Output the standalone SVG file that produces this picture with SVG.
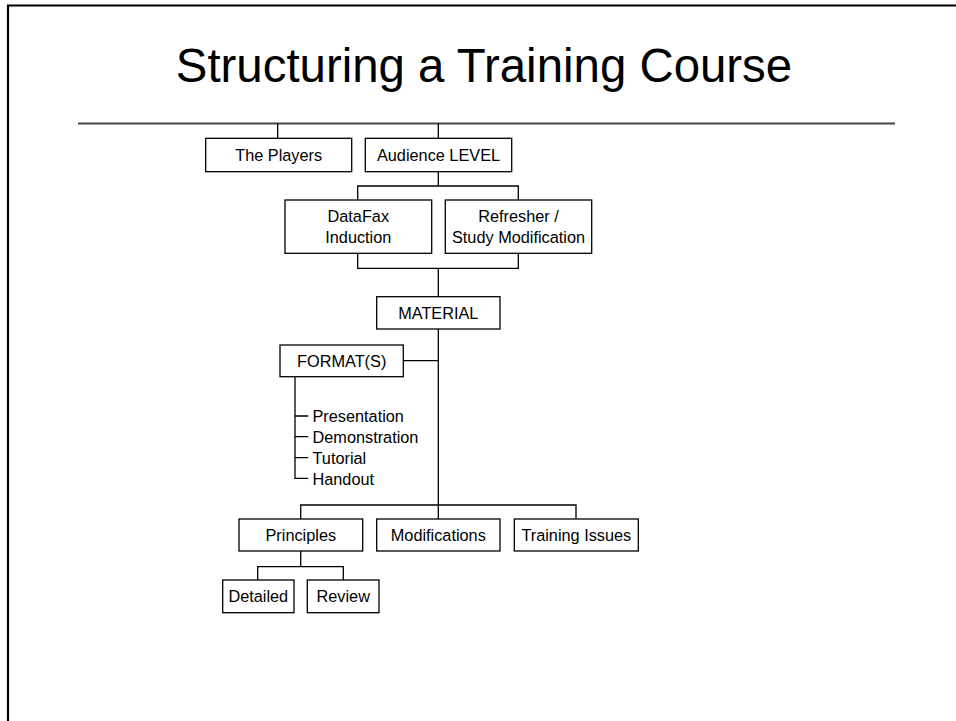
<svg xmlns="http://www.w3.org/2000/svg" width="956" height="721" viewBox="0 0 956 721">
<style>
.box{fill:#fff;stroke:#000;stroke-width:1.3}
.t{font-family:"Liberation Sans",Arial,sans-serif;font-size:16.3px;fill:#000;text-anchor:middle}
.l{font-family:"Liberation Sans",Arial,sans-serif;font-size:16.3px;fill:#000}
.c{fill:none;stroke:#000;stroke-width:1.3}
</style>
<rect width="956" height="721" fill="#fff"/>
<path d="M8 721 V5.5 H956" fill="none" stroke="#000" stroke-width="2.2"/>
<text x="484" y="82" font-family="'Liberation Sans',Arial,sans-serif" font-size="47.4" text-anchor="middle" fill="#000">Structuring a Training Course</text>
<line x1="78" y1="123.5" x2="895" y2="123.5" stroke="#444" stroke-width="2"/>
<g id="connectors">
<path class="c" d="M277.7 123.5 V138.3 M438.3 123.5 V138.3"/>
<path class="c" d="M438.3 171.7 V186 M357.7 200 V186 H518.3 V200"/>
<path class="c" d="M357.7 253.3 V268.3 H518.3 V253.3 M438.3 268.3 V296.7"/>
<path class="c" d="M438.3 329 V519 M403.3 360.7 H438.3"/>
<path class="c" d="M295 376.7 V478.3 H308.3 M295 416 H308.3 M295 436.7 H308.3 M295 457.7 H308.3"/>
<path class="c" d="M300.7 519 V505 H576 V519"/>
<path class="c" d="M300.7 551 V566.7 M257.7 580 V566.7 H343.3 V580"/>
</g>
<g id="players"><rect class="box" x="205.7" y="138.3" width="146" height="33.4"/><text class="t" x="278.7" y="161.3">The Players</text></g>
<g id="audience"><rect class="box" x="365.3" y="138.3" width="146.4" height="33.4"/><text class="t" x="438.5" y="161.3">Audience LEVEL</text></g>
<g id="datafax"><rect class="box" x="285" y="200" width="146.7" height="53.3"/><text class="t" x="358.3" y="221.7">DataFax</text><text class="t" x="358.3" y="242.7">Induction</text></g>
<g id="refresher"><rect class="box" x="445.3" y="200" width="146.4" height="53.3"/><text class="t" x="518.5" y="221.7">Refresher /</text><text class="t" x="518.5" y="242.7">Study Modification</text></g>
<g id="material"><rect class="box" x="376.7" y="296.7" width="123.3" height="32.3"/><text class="t" x="438.3" y="318.5">MATERIAL</text></g>
<g id="formats"><rect class="box" x="280" y="345" width="123.3" height="31.7"/><text class="t" x="341.7" y="366.5">FORMAT(S)</text>
<text class="l" x="312.5" y="421.7">Presentation</text>
<text class="l" x="312.5" y="442.7">Demonstration</text>
<text class="l" x="312.5" y="463.5">Tutorial</text>
<text class="l" x="312.5" y="484.5">Handout</text></g>
<g id="principles"><rect class="box" x="239" y="519" width="123.7" height="32"/><text class="t" x="300.8" y="540.5">Principles</text></g>
<g id="modifications"><rect class="box" x="376.7" y="519" width="123.3" height="32"/><text class="t" x="438.3" y="540.5">Modifications</text></g>
<g id="issues"><rect class="box" x="514.3" y="519" width="124" height="32"/><text class="t" x="576.3" y="540.5">Training Issues</text></g>
<g id="detailed"><rect class="box" x="222.7" y="580" width="71.3" height="32.7"/><text class="t" x="258.3" y="601.7">Detailed</text></g>
<g id="review"><rect class="box" x="307.3" y="580" width="71.7" height="32.7"/><text class="t" x="343.2" y="601.7">Review</text></g>
</svg>
